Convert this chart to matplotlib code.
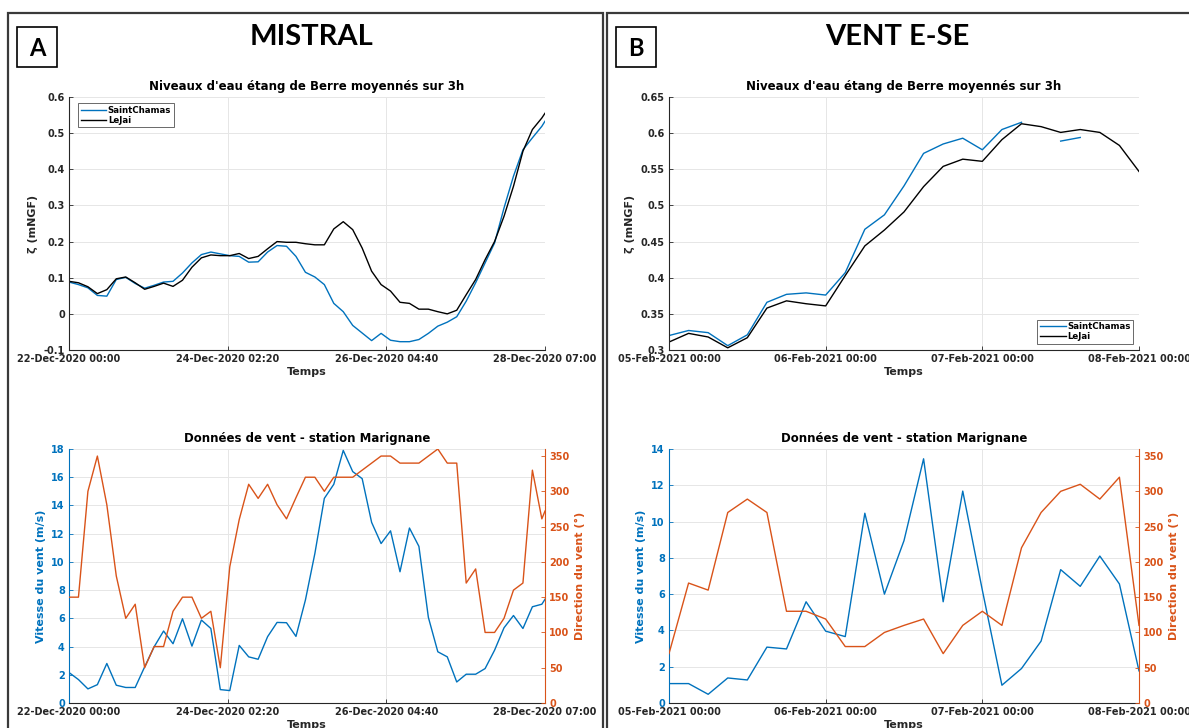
import matplotlib
matplotlib.use('Agg')
import matplotlib.pyplot as plt
import matplotlib.dates as mdates
from matplotlib.patches import Rectangle
from matplotlib.ticker import FuncFormatter
import numpy as np
import pandas as pd

BLUE = '#0072BD'
ORANGE = '#D95319'
DARK = '#262626'

# ---------------- panel A : Mistral ----------------
t_a = list(pd.date_range('2020-12-22 00:00', periods=51, freq='3h')) + [pd.Timestamp('2020-12-28 07:00')]
saint_a = [0.088, 0.081, 0.072, 0.051, 0.049, 0.095, 0.101, 0.084, 0.071, 0.079,
           0.088, 0.090, 0.113, 0.141, 0.164, 0.171, 0.166, 0.161, 0.159, 0.143,
           0.144, 0.171, 0.189, 0.187, 0.159, 0.115, 0.102, 0.081, 0.029, 0.006,
           -0.032, -0.053, -0.074, -0.054, -0.073, -0.077, -0.077, -0.071, -0.054, -0.034,
           -0.023, -0.008, 0.035, 0.086, 0.141, 0.196, 0.293, 0.381, 0.454, 0.487,
           0.519, 0.533]
lejai_a = [0.090, 0.086, 0.075, 0.056, 0.067, 0.097, 0.102, 0.086, 0.068, 0.076,
           0.085, 0.076, 0.093, 0.129, 0.155, 0.163, 0.161, 0.161, 0.167, 0.153,
           0.159, 0.180, 0.200, 0.198, 0.198, 0.194, 0.191, 0.191, 0.235, 0.255,
           0.233, 0.182, 0.118, 0.081, 0.063, 0.032, 0.029, 0.013, 0.013, 0.006,
           0.000, 0.010, 0.053, 0.095, 0.150, 0.200, 0.270, 0.353, 0.450, 0.510,
           0.542, 0.555]
speed_a = [2.16, 1.66, 1.0, 1.3, 2.8, 1.26, 1.1, 1.1, 2.56, 3.98,
           5.1, 4.2, 5.97, 4.03, 5.88, 5.28, 0.95, 0.88, 4.08, 3.27,
           3.1, 4.7, 5.71, 5.69, 4.72, 7.3, 10.6, 14.5, 15.5, 17.9,
           16.4, 15.9, 12.8, 11.3, 12.2, 9.3, 12.4, 11.1, 6.07, 3.63,
           3.27, 1.49, 2.04, 2.04, 2.44, 3.74, 5.33, 6.2, 5.28, 6.82,
           7.0, 7.35]
dir_a = [150, 150, 300, 350, 281, 180, 120, 140, 50, 80,
         80, 130, 150, 150, 120, 130, 50, 193, 260, 310,
         290, 310, 281, 261, 291, 320, 320, 300, 320, 320,
         320, 330, 340, 350, 350, 340, 340, 340, 350, 360,
         340, 340, 170, 190, 100, 100, 120, 160, 170, 330,
         261, 272]

# ---------------- panel B : vent E-SE ----------------
t_b = pd.date_range('2021-02-05 00:00', periods=25, freq='3h')
saint_b = [0.320, 0.327, 0.324, 0.306, 0.321, 0.366, 0.377, 0.379, 0.376, 0.407,
           0.467, 0.487, 0.527, 0.572, 0.585, 0.593, 0.577, 0.605, 0.615, np.nan,
           0.589, 0.594, np.nan, np.nan, np.nan]
lejai_b = [0.311, 0.323, 0.318, 0.303, 0.317, 0.358, 0.368, 0.364, 0.361, 0.403,
           0.444, 0.466, 0.491, 0.526, 0.554, 0.564, 0.561, 0.591, 0.613, 0.609,
           0.601, 0.605, 0.601, 0.583, 0.547]
speed_b = [1.07, 1.07, 0.48, 1.38, 1.27, 3.08, 2.98, 5.58, 3.96, 3.66,
           10.46, 6.0, 8.95, 13.46, 5.58, 11.68, 6.22, 0.98, 1.9, 3.41,
           7.35, 6.43, 8.1, 6.56, 1.77]
dir_b = [70, 170, 160, 270, 289, 270, 130, 130, 119, 80,
         80, 100, 110, 119, 70, 110, 130, 110, 220, 270,
         300, 310, 289, 320, 110]

plt.rcParams['font.family'] = 'DejaVu Sans'
plt.rcParams['font.weight'] = 'bold'
plt.rcParams['axes.labelweight'] = 'bold'
plt.rcParams['axes.titleweight'] = 'bold'

W, H = 1189, 728
fig = plt.figure(figsize=(W / 100, H / 100), dpi=100)


def box(x0, y0, x1, y1):
    # pixel box -> figure fraction [left, bottom, width, height]
    return [x0 / W, 1 - y1 / H, (x1 - x0) / W, (y1 - y0) / H]


def xticks_for(ax, t0, t1):
    span = (t1 - t0) / 3
    ticks = [t0 + k * span for k in range(4)]
    ax.set_xlim(t0, t1)
    ax.set_xticks(ticks)
    ax.xaxis.set_major_formatter(mdates.DateFormatter('%d-%b-%Y %H:%M'))


def base_style(ax, left_color=DARK):
    ax.grid(True, color='#e6e6e6', lw=0.7)
    ax.set_axisbelow(True)
    ax.spines['top'].set_visible(False)
    ax.spines['right'].set_visible(False)
    ax.spines['bottom'].set_color(DARK)
    ax.spines['left'].set_color(left_color)
    ax.tick_params(direction='in', length=3, width=0.6, labelsize=7, pad=3)
    ax.tick_params(axis='x', colors=DARK)
    ax.tick_params(axis='y', colors=left_color)
    for lab in ax.get_xticklabels() + ax.get_yticklabels():
        lab.set_fontweight('bold')
    ax.yaxis.set_major_formatter(FuncFormatter(lambda v, p: '%g' % round(v, 3)))
    ax.set_xlabel('Temps', fontsize=8, color=DARK, labelpad=2)


def level_panel(rect, t, saint, lejai, ylim, ystep, loc, anchor):
    ax = fig.add_axes(rect)
    ax.plot(t, saint, color=BLUE, lw=1.0, label='SaintChamas')
    ax.plot(t, lejai, color='black', lw=1.0, label='LeJai')
    xticks_for(ax, t[0], t[-1])
    ax.set_ylim(*ylim)
    ax.set_yticks(np.arange(ylim[0], ylim[1] + ystep / 2, ystep))
    base_style(ax)
    ax.set_ylabel('ζ (mNGF)', fontsize=8, color=DARK, labelpad=4)
    ax.set_title("Niveaux d'eau étang de Berre moyennés sur 3h", fontsize=8.5,
                 color='black', pad=5)
    leg = ax.legend(loc=loc, bbox_to_anchor=anchor, fontsize=6.2, frameon=True,
                    fancybox=False, edgecolor=DARK, handlelength=3.0,
                    handletextpad=0.15, labelspacing=0.1, borderpad=0.3,
                    borderaxespad=0)
    leg.get_frame().set_linewidth(0.6)
    for txt in leg.get_texts():
        txt.set_fontweight('bold')
    return ax


def wind_panel(rect, t, speed, direction, ymax):
    ax = fig.add_axes(rect)
    ax.plot(t, speed, color=BLUE, lw=1.0)
    xticks_for(ax, t[0], t[-1])
    ax.set_ylim(0, ymax)
    ax.set_yticks(np.arange(0, ymax + 1, 2))
    base_style(ax, left_color=BLUE)
    ax.set_ylabel('Vitesse du vent (m/s)', fontsize=8, color=BLUE, labelpad=4)
    ax.set_title('Données de vent - station Marignane', fontsize=8.5,
                 color='black', pad=5)
    ax2 = ax.twinx()
    ax2.plot(t, direction, color=ORANGE, lw=1.0)
    ax2.set_ylim(0, 360)
    ax2.set_yticks(np.arange(0, 351, 50))
    for side in ['top', 'left', 'bottom']:
        ax2.spines[side].set_visible(False)
    ax2.spines['right'].set_color(ORANGE)
    ax2.tick_params(direction='in', length=3, width=0.6, labelsize=7, pad=3,
                    colors=ORANGE)
    for lab in ax2.get_yticklabels():
        lab.set_fontweight('bold')
    ax2.set_ylabel('Direction du vent (°)', fontsize=8, color=ORANGE, labelpad=4)
    return ax


level_panel(box(69, 97, 545, 350), t_a, saint_a, lejai_a, (-0.1, 0.6), 0.1,
            'upper left', (0.019, 0.975))
level_panel(box(669, 97, 1139, 350), list(t_b), saint_b, lejai_b, (0.3, 0.65), 0.05,
            'lower right', (0.987, 0.025))
wind_panel(box(69, 449, 545, 703), t_a, speed_a, dir_a, 18)
wind_panel(box(669, 449, 1139, 703), list(t_b), speed_b, dir_b, 14)

# panel frames
for x0, x1 in [(8, 603), (607, 1200)]:
    fig.patches.append(Rectangle((x0 / W, -0.05), (x1 - x0) / W, 1.05 - 13 / H,
                                 transform=fig.transFigure, fill=False,
                                 edgecolor='#3a3a3a', lw=1.6))

# letter boxes and panel titles
for x0, letter in [(17, 'A'), (616, 'B')]:
    fig.patches.append(Rectangle((x0 / W, 1 - 67 / H), 40 / W, 40 / H,
                                 transform=fig.transFigure, fill=False,
                                 edgecolor='black', lw=1.2))
    fig.text((x0 + 20) / W, 1 - 48 / H, letter, fontsize=17, fontweight='bold',
             family='Lato', ha='center', va='center')

fig.text(312 / W, 1 - 37 / H, 'MISTRAL', fontsize=21, fontweight='bold',
         family='Lato', ha='center', va='center')
fig.text(897 / W, 1 - 37 / H, 'VENT E-SE', fontsize=21, fontweight='bold',
         family='Lato', ha='center', va='center')

fig.savefig('out.png', dpi=100)
